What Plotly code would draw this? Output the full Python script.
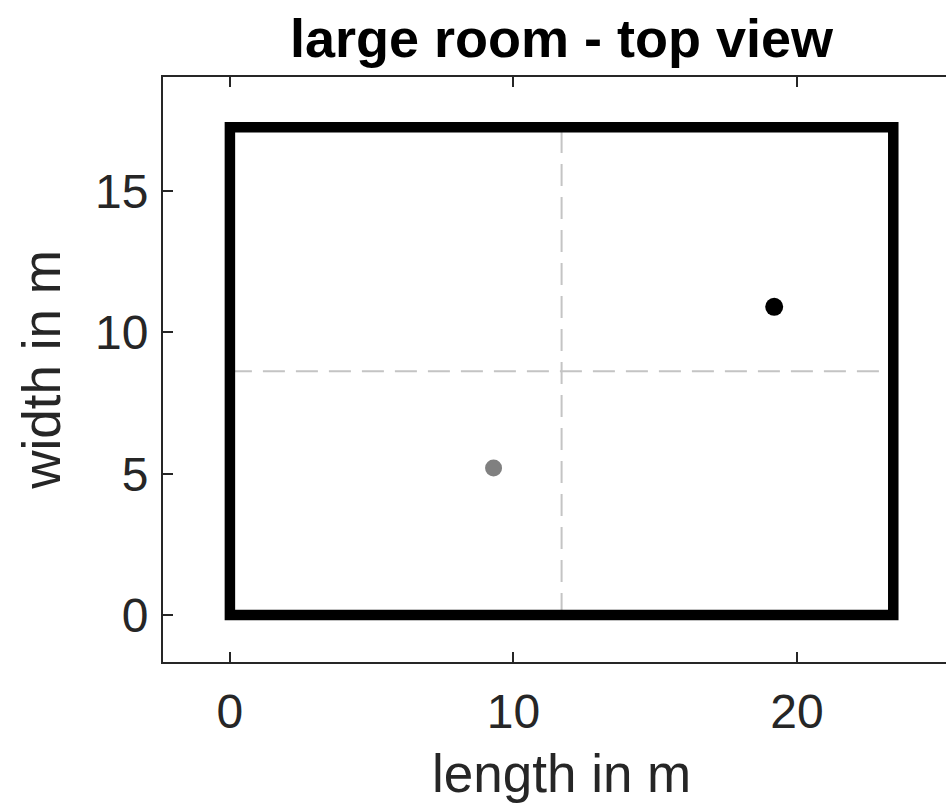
import plotly.graph_objects as go

# Room geometry (metres) and the two positions inside it
room_length = 23.4
room_width = 17.25
source_x = [9.3]
source_y = [5.2]
receiver_x = [19.2]
receiver_y = [10.9]

x_ticks = [0, 10, 20]
y_ticks = [0, 5, 10, 15]

FONT = "Liberation Sans, Arial, Helvetica, sans-serif"
AXIS_COLOR = "#262626"

fig = go.Figure()

# Centre lines of the room
fig.add_trace(go.Scatter(
    x=[room_length / 2, room_length / 2], y=[0, room_width],
    mode="lines", line=dict(color="#c4c4c4", width=2, dash="22px,11px"),
    hoverinfo="skip", showlegend=False))
fig.add_trace(go.Scatter(
    x=[0, room_length], y=[room_width / 2, room_width / 2],
    mode="lines", line=dict(color="#c4c4c4", width=2, dash="22px,11px"),
    hoverinfo="skip", showlegend=False))

# Walls: start mid-way along one wall so every corner is a proper join
fig.add_trace(go.Scatter(
    x=[room_length / 2, room_length, room_length, 0, 0, room_length / 2],
    y=[0, 0, room_width, room_width, 0, 0],
    mode="lines", line=dict(color="black", width=10.5),
    hoverinfo="skip", showlegend=False))

# Source (grey) and receiver (black)
fig.add_trace(go.Scatter(
    x=source_x, y=source_y, mode="markers",
    marker=dict(color="#808080", size=17, line=dict(width=0)),
    showlegend=False))
fig.add_trace(go.Scatter(
    x=receiver_x, y=receiver_y, mode="markers",
    marker=dict(color="black", size=18, line=dict(width=0)),
    showlegend=False))

axis_common = dict(
    showline=True, linecolor=AXIS_COLOR, linewidth=2,
    ticks="inside", ticklen=10, tickwidth=2, tickcolor=AXIS_COLOR,
    showgrid=False, zeroline=False,
    tickfont=dict(family=FONT, size=48, color=AXIS_COLOR),
)

fig.update_layout(
    width=946, height=808,
    margin=dict(l=163, r=0, t=77, b=146),
    paper_bgcolor="white", plot_bgcolor="white",
    title=dict(
        text="<b>large room - top view</b>",
        font=dict(family=FONT, size=54, color="black"),
        x=(163 + 960) / 2 / 946, xanchor="center",
        y=1 - 57 / 808, yanchor="bottom", yref="container",
    ),
    xaxis=dict(
        **axis_common, mirror="ticks", ticklabelstandoff=6,
        range=[-2.36, 25.26], tickvals=x_ticks,
    ),
    yaxis=dict(
        **axis_common, mirror=False, ticklabelstandoff=3,
        range=[-1.66, 19.03], tickvals=y_ticks,
        title=dict(text="width in m", standoff=17,
                   font=dict(family=FONT, size=53, color=AXIS_COLOR)),
    ),
    annotations=[dict(
        text="length in m", showarrow=False,
        xref="paper", yref="paper",
        x=(561 - 163) / 783, xanchor="center",
        y=-(793 - 662) / 585, yanchor="bottom", yshift=-12,
        font=dict(family=FONT, size=53, color=AXIS_COLOR),
    )],
)

fig.write_html("out.html")
